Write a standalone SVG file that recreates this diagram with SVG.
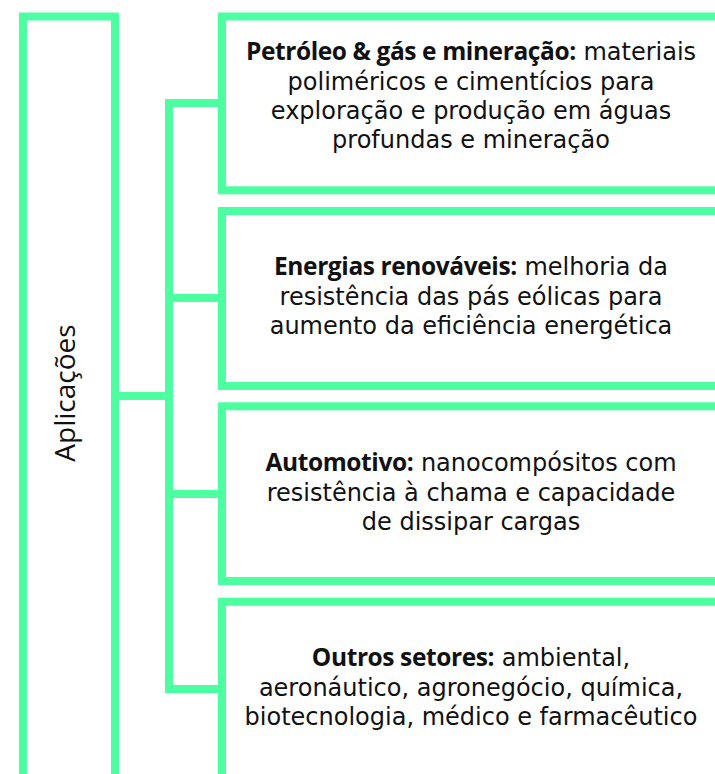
<svg xmlns="http://www.w3.org/2000/svg" width="715" height="774" viewBox="0 0 715 774">
<style>
.box{fill:none;stroke:#4cffa1;stroke-width:8}
.con{fill:none;stroke:#4cffa1;stroke-width:8;stroke-linejoin:miter}
.t{font-family:"DejaVu Sans","Open Sans",sans-serif;font-size:24px;fill:#111;text-anchor:middle}
.b{font-family:"Open Sans","DejaVu Sans",sans-serif;font-weight:700;font-size:24.5px;letter-spacing:-0.4px}
.lbl{font-family:"Open Sans","Noto Sans","Liberation Sans",sans-serif;font-size:28px;fill:#111;text-anchor:middle}
</style>
<rect width="715" height="774" fill="#fff"/>
<g id="connectors">
<path class="con" d="M218 103 H169 V689 H218"/>
<path class="con" d="M169 298 H218"/>
<path class="con" d="M169 494 H218"/>
<path class="con" d="M115 396 H169"/>
</g>
<g id="node-aplicacoes">
<rect class="box" x="23" y="16.5" width="92" height="762"/>
<text class="lbl" transform="translate(75 393) rotate(-90)">Aplicações</text>
</g>
<g id="node-petroleo">
<rect class="box" x="222" y="16.5" width="520" height="173.8"/>
<text class="t" x="471" y="60"><tspan class="b">Petróleo &amp; gás e mineração:</tspan> materiais</text>
<text class="t" x="471" y="90">poliméricos e cimentícios para</text>
<text class="t" x="471" y="119">exploração e produção em águas</text>
<text class="t" x="471" y="148">profundas e mineração</text>
</g>
<g id="node-energias">
<rect class="box" x="222" y="211" width="520" height="175"/>
<text class="t" x="471" y="275"><tspan class="b">Energias renováveis:</tspan> melhoria da</text>
<text class="t" x="471" y="305">resistência das pás eólicas para</text>
<text class="t" x="471" y="334">aumento da eficiência energética</text>
</g>
<g id="node-automotivo">
<rect class="box" x="222" y="406.3" width="520" height="174.7"/>
<text class="t" x="471" y="471"><tspan class="b">Automotivo:</tspan> nanocompósitos com</text>
<text class="t" x="471" y="501">resistência à chama e capacidade</text>
<text class="t" x="471" y="530">de dissipar cargas</text>
</g>
<g id="node-outros">
<rect class="box" x="222" y="601.7" width="520" height="180"/>
<text class="t" x="471" y="666"><tspan class="b">Outros setores:</tspan> ambiental,</text>
<text class="t" x="471" y="696">aeronáutico, agronegócio, química,</text>
<text class="t" x="471" y="725">biotecnologia, médico e farmacêutico</text>
</g>
</svg>
